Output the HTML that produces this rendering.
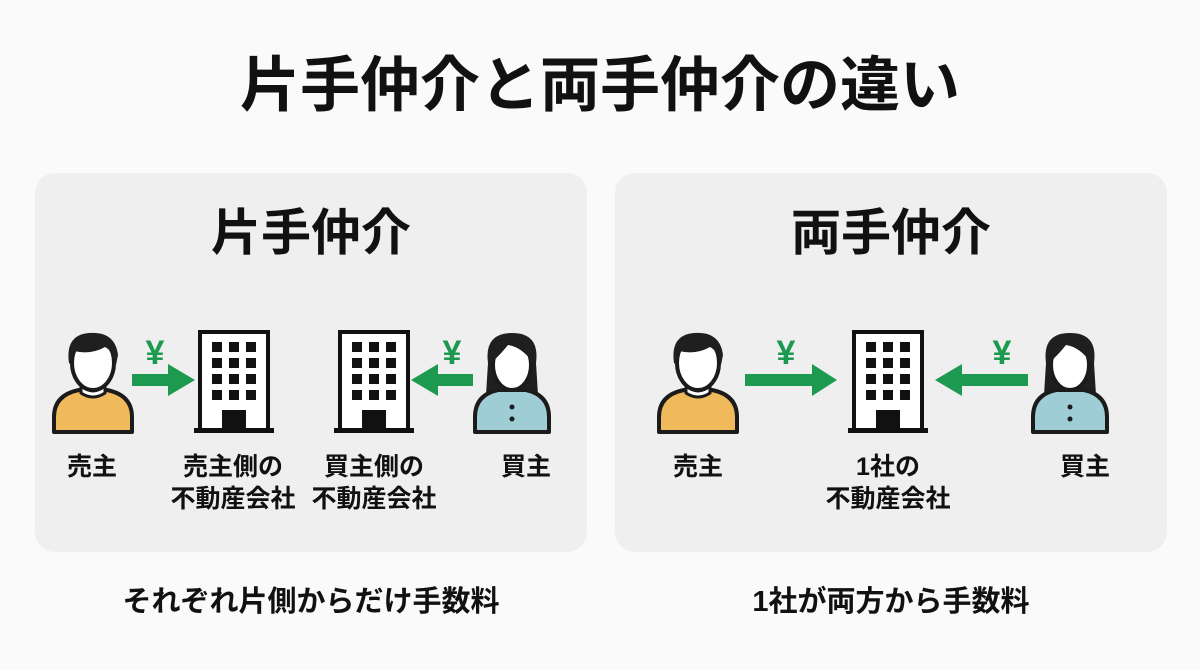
<!DOCTYPE html>
<html><head><meta charset="utf-8"><style>
html,body{margin:0;padding:0;background:#fafafa;}
svg{display:block}
text{font-family:"Liberation Sans","Noto Sans CJK JP",sans-serif;font-weight:bold;fill:#111;text-anchor:middle}
</style></head><body>
<svg width="1200" height="670" viewBox="0 0 1200 670">
<defs>
<g id="man">
  <path d="M-39,99 L-39,84 Q-39,62 -14,57 L14,57 Q39,62 39,84 L39,99 Z" fill="#f0b95c" stroke="#1b1b1b" stroke-width="4" stroke-linejoin="round"/>
  <path d="M-12,52 Q0,64 12,52 L12,60 Q0,68 -12,60 Z" fill="#fff" stroke="#1b1b1b" stroke-width="3"/>
  <ellipse cx="0" cy="30" rx="21" ry="27" fill="#fff" stroke="#1b1b1b" stroke-width="4"/>
  <path d="M-24,30 Q-28,2 -4,0 Q22,-2 25,22 L23,32 Q20,18 12,14 Q-2,22 -19,18 Q-21,24 -22,32 Z" fill="#1f1f1f"/>
</g>
<g id="woman">
  <path d="M-24,30 Q-28,0 0,0 Q28,0 24,30 L26,62 L-26,62 Z" fill="#1f1f1f"/>
  <path d="M-37,99 L-37,84 Q-37,62 -14,57 L14,57 Q37,62 37,84 L37,99 Z" fill="#9fcdd6" stroke="#1b1b1b" stroke-width="4" stroke-linejoin="round"/>
  <ellipse cx="0" cy="32" rx="19" ry="25" fill="#fff" stroke="#1b1b1b" stroke-width="4"/>
  <path d="M-21,30 Q-20,4 0,4 Q20,4 21,30 Q10,14 -4,12 Q-12,22 -21,30 Z" fill="#1f1f1f"/>
  <circle cx="0" cy="74" r="2.5" fill="#1b1b1b"/><circle cx="0" cy="86" r="2.5" fill="#1b1b1b"/>
</g>
<g id="bld">
  <rect x="-34" y="2" width="68" height="98" fill="#fff" stroke="#111" stroke-width="4"/>
  <rect x="-40" y="98" width="80" height="5" fill="#111"/>
  <g fill="#111">
    <rect x="-22" y="12" width="10" height="10"/><rect x="-5" y="12" width="10" height="10"/><rect x="12" y="12" width="10" height="10"/>
    <rect x="-22" y="28" width="10" height="10"/><rect x="-5" y="28" width="10" height="10"/><rect x="12" y="28" width="10" height="10"/>
    <rect x="-22" y="44" width="10" height="10"/><rect x="-5" y="44" width="10" height="10"/><rect x="12" y="44" width="10" height="10"/>
    <rect x="-22" y="60" width="10" height="10"/><rect x="-5" y="60" width="10" height="10"/><rect x="12" y="60" width="10" height="10"/>
    <rect x="-12" y="80" width="24" height="20"/>
  </g>
</g>
</defs>
<text x="600" y="106" font-size="60">片手仲介と両手仲介の違い</text>
<rect x="35" y="173" width="552" height="379" rx="20" fill="#efefef"/>
<rect x="615" y="173" width="552" height="379" rx="20" fill="#efefef"/>
<text x="311" y="250" font-size="50">片手仲介</text>
<text x="891" y="250" font-size="50">両手仲介</text>

<!-- left panel -->
<use href="#man" x="93" y="333"/>
<use href="#bld" x="234" y="330"/>
<use href="#bld" x="374" y="330"/>
<use href="#woman" x="512" y="333"/>
<path d="M132,374 L168,374 L168,364 L195,380 L168,396 L168,386 L132,386 Z" fill="#1d9a50"/>
<path d="M473,374 L438,374 L438,364 L411,380 L438,396 L438,386 L473,386 Z" fill="#1d9a50"/>
<text x="155" y="364" font-size="34" style="fill:#1d9a50">¥</text>
<text x="452" y="364" font-size="34" style="fill:#1d9a50">¥</text>
<text x="92" y="475" font-size="25">売主</text>
<text x="233" y="475" font-size="25">売主側の</text>
<text x="233" y="507" font-size="25">不動産会社</text>
<text x="374" y="475" font-size="25">買主側の</text>
<text x="374" y="507" font-size="25">不動産会社</text>
<text x="526" y="475" font-size="25">買主</text>

<!-- right panel -->
<use href="#man" x="698" y="333"/>
<use href="#bld" x="888" y="330"/>
<use href="#woman" x="1070" y="333"/>
<path d="M745,374 L812,374 L812,364 L837,380 L812,396 L812,386 L745,386 Z" fill="#1d9a50"/>
<path d="M1028,374 L962,374 L962,364 L935,380 L962,396 L962,386 L1028,386 Z" fill="#1d9a50"/>
<text x="786" y="364" font-size="34" style="fill:#1d9a50">¥</text>
<text x="1002" y="364" font-size="34" style="fill:#1d9a50">¥</text>
<text x="698" y="475" font-size="25">売主</text>
<text x="888" y="475" font-size="25">1社の</text>
<text x="888" y="507" font-size="25">不動産会社</text>
<text x="1085" y="475" font-size="25">買主</text>

<text x="311" y="611" font-size="29">それぞれ片側からだけ手数料</text>
<text x="891" y="611" font-size="29">1社が両方から手数料</text>
</svg>
</body></html>
